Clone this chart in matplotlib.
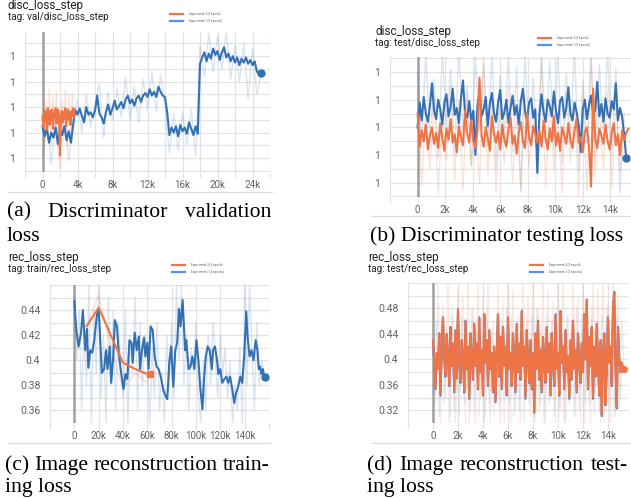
import numpy as np
import matplotlib
matplotlib.use("Agg")
import matplotlib.pyplot as plt

# ---------------- data ----------------
# (a) validation discriminator loss (display units, tick labels all read "1")
a_orange_step = 100
a_orange = [4.3, 3.4, 4.8, 3.9, 4.6, 3.2, 4.9, 4.1, 3.6, 4.7, 4.0, 4.8, 3.3, 4.5, 4.2, 4.9, 3.7, 4.4, 4.8, 3.9,
            1.2, 4.3, 4.7, 3.8, 4.6, 4.1, 4.9, 3.5, 4.4, 4.8, 4.0, 4.6, 3.6, 4.7, 4.3, 4.9, 4.2, 4.8]
a_orange_raw_step = 200
a_orange_raw = [6.0, 1.8, 5.5, 2.4, 6.4, 2.0, 5.8, 2.6, 6.2, 1.5, 0.2, 5.6, 2.2, 6.3, 1.9, 5.9, 2.8, 6.0, 3.5]
a_blue_step = 250
a_blue = [3.5, 2.7, 3.3, 2.2, 3.0, 2.6, 3.4, 2.1, 3.2, 2.8, 3.5, 2.4, 3.1, 2.2, 3.6,
          4.8, 4.4, 4.9, 4.3, 3.8, 5.0, 4.4, 4.6, 4.2, 4.7, 5.9, 4.5, 4.2, 3.7, 4.6, 5.2, 4.4, 4.9, 5.5, 4.8,
          5.1, 5.4, 4.9, 5.6, 5.9, 5.3, 5.6, 5.1, 5.7, 5.9, 5.4, 5.9, 6.1, 5.8, 6.4, 5.9, 6.2, 5.8, 6.6, 6.2,
          5.9, 5.8, 4.6, 2.8, 3.4, 3.0, 3.5, 2.7, 3.6, 3.1, 3.4, 2.9, 3.8, 3.3, 2.8, 3.5, 2.9,
          8.4, 8.9, 9.3, 8.6, 9.2, 8.8, 9.6, 9.1, 9.4, 8.7, 9.3, 9.7, 8.9, 9.2, 8.6, 9.0, 8.5, 8.9, 8.3, 8.8,
          8.5, 8.9, 8.4, 8.7, 8.3, 8.6, 7.8, 7.6, 7.7]
a_blue_raw_step = 500
a_blue_raw = [1.0, 4.5, 0.5, 3.8, 1.5, 5.0, 0.8, 4.2,
              5.6, 3.0, 6.0, 3.4, 5.2, 6.8, 2.6, 6.2, 4.0, 6.5, 4.2, 7.4, 4.0, 6.6, 3.8, 7.2, 4.8, 7.8,
              4.6, 7.6, 5.0, 1.4, 4.5, 1.6, 4.6, 2.0, 4.8, 1.2, 9.8, 7.4, 10.8, 7.8, 10.6, 8.0, 10.9, 7.2,
              9.8, 7.0, 10.0, 5.6, 9.6, 6.0, 7.6]

# (b) test discriminator loss
b_step = 150
b_blue = [5.0, 6.8, 5.5, 7.2, 6.0, 5.4, 6.6, 8.2, 6.2, 5.6, 7.0, 6.3, 5.2, 6.8, 7.4, 5.8, 6.5, 7.8, 5.9, 6.4,
          5.3, 7.1, 8.4, 6.0, 5.7, 6.9, 5.5, 6.2, 3.0, 6.6, 7.6, 5.8, 6.3, 7.2, 5.1, 6.7, 7.5, 6.0, 5.4, 6.8,
          7.7, 5.6, 6.1, 7.0, 5.3, 6.4, 7.3, 5.9, 6.6, 5.2, 6.9, 7.8, 6.2, 5.5, 6.8, 7.1, 5.7, 6.3, 1.7, 5.9,
          7.4, 6.1, 5.4, 7.0, 6.5, 5.8, 7.6, 6.2, 5.3, 6.9, 7.2, 5.7, 6.4, 7.9, 6.0, 5.5, 6.8, 6.1, 5.2, 3.2,
          6.3, 7.0, 5.6, 6.6, 7.3, 5.9, 6.2, 8.3, 5.8, 6.7, 5.4, 7.1, 6.0, 5.7, 6.9, 6.3, 8.2, 5.5, 6.4, 5.8,
          4.5, 2.8]
b_orange = [6.0, 3.6, 4.8, 4.0, 5.2, 3.4, 4.4, 5.0, 3.8, 4.6, 3.5, 5.3, 4.2, 3.3, 4.9, 4.1, 5.6, 3.9, 4.5, 3.2,
            5.1, 4.3, 3.7, 6.2, 4.6, 3.9, 5.5, 4.0, 3.5, 4.8, 8.6, 4.4, 3.6, 5.0, 4.2, 3.3, 5.8, 4.5, 3.9, 4.7,
            3.4, 5.2, 4.1, 3.6, 4.9, 5.7, 3.8, 4.4, 3.1, 4.6, 5.4, 4.0, 3.5, 6.0, 4.3, 3.7, 5.1, 4.5, 3.9, 4.8,
            3.6, 5.5, 4.2, 3.4, 4.9, 4.0, 5.8, 3.7, 4.6, 3.3, 5.0, 4.4, 3.8, 5.3, 4.1, 3.5, 4.8, 5.6, 3.9, 4.3,
            3.2, 4.7, 5.0, 3.6, 0.7, 7.8, 4.2, 3.5, 4.9, 4.4, 3.8, 5.2, 4.0, 3.4, 4.6, 5.3, 3.7, 4.5, 3.0, 4.8,
            4.1, 4.6, 4.9]
b_raw_step = 300
b_blue_raw = [9.0, 3.5, 10.6, 4.2, 8.5, 2.8, 10.4, 5.0, 9.2, 3.0, 10.8, 4.5, 8.0, 2.2, 10.2, 4.8, 9.6, 3.6,
              10.7, 2.0, 8.8, 4.4, 10.3, 3.2, 9.4, 0.3, 10.6, 4.0, 8.6, 2.6, 10.1, 4.6, 9.8, 3.4, 10.5, 2.4,
              9.0, 4.2, 10.9, 1.8, 8.4, 3.8, 10.0, 2.9, 9.6, 4.4, 10.7, 3.0, 9.2, 0.2, 6.0]
b_orange_raw = [7.8, 0.8, 6.5, 2.0, 7.2, 0.2, 5.8, 2.6, 8.0, 1.2, 6.9, 0.5, 7.5, 2.2, 6.2, 0.9, 10.5, 1.6,
                7.0, 0.3, 6.6, 2.4, 7.9, 1.0, 5.9, 0.4, 7.3, 2.1, 6.4, 1.3, 10.2, 0.6, 7.1, 1.9, 6.0, 0.2,
                7.6, 2.5, 6.8, 0.0, 7.4, 0.4, 10.6, 1.5, 6.3, 2.0, 7.7, 0.7, 6.5, 1.8, 5.5]

# (c) train reconstruction loss
c_orange_steps = [10000, 20000, 30000, 40000, 50000, 60000, 62000]
c_orange = [0.427, 0.442, 0.420, 0.398, 0.393, 0.389, 0.389]
c_orange_raw = [0.427, 0.452, 0.411, 0.377, 0.390, 0.382, 0.389]
c_blue_steps_k = [0, 1.6, 3.5, 5.5, 7, 8, 9, 10.4, 11.5, 13, 14.7, 16.4, 18.5, 20, 21, 22.6, 24.5, 26, 27.3, 29,
                  30.3, 32, 33.3, 35, 36.5, 38, 40.4, 42, 43.6, 45.3, 47, 48, 49.6, 51.3, 53, 54, 55.6, 57.3, 58.4, 60,
                  61, 62.7, 64.4, 66, 67.6, 69.3, 71, 73, 74.7, 76.4, 78, 79.6, 81.3, 83, 84.5, 86, 87.3, 89, 90, 91,
                  92, 94, 95.5, 97, 98.7, 100.4, 102, 103.6, 105.3, 106.4, 108, 109.6, 111.3, 113, 114, 115.6, 117.3,
                  118.4, 120, 121.6, 123.3, 125, 126.5, 128, 129.8, 131.4, 133, 134.7, 136.4, 138, 139.6, 141.3,
                  142.4, 144, 145.6, 147.3, 149, 150.5, 151.6, 152.7, 153.8, 155, 156, 157]
c_blue = [0.447, 0.424, 0.411, 0.422, 0.440, 0.424, 0.408, 0.425, 0.394, 0.408, 0.406, 0.416, 0.436, 0.441, 0.422,
          0.390, 0.393, 0.408, 0.393, 0.411, 0.382, 0.403, 0.432, 0.427, 0.406, 0.393, 0.377, 0.389, 0.385, 0.416,
          0.414, 0.398, 0.422, 0.408, 0.419, 0.393, 0.408, 0.418, 0.403, 0.414, 0.393, 0.427, 0.424, 0.403, 0.395,
          0.393, 0.387, 0.377, 0.372, 0.369, 0.398, 0.411, 0.379, 0.408, 0.414, 0.441, 0.427, 0.448, 0.429, 0.408,
          0.416, 0.393, 0.395, 0.403, 0.393, 0.416, 0.400, 0.377, 0.361, 0.382, 0.403, 0.411, 0.408, 0.393, 0.408,
          0.411, 0.400, 0.389, 0.393, 0.382, 0.385, 0.387, 0.382, 0.387, 0.377, 0.366, 0.374, 0.379, 0.387, 0.382,
          0.403, 0.439, 0.419, 0.403, 0.408, 0.400, 0.416, 0.408, 0.393, 0.395, 0.389, 0.393, 0.386, 0.387]
c_blue_raw_step = 2000
c_blue_raw = [0.45, 0.40, 0.44, 0.36, 0.43, 0.38, 0.46, 0.35, 0.44, 0.39, 0.46, 0.37, 0.42, 0.35, 0.45, 0.38,
              0.44, 0.36, 0.43, 0.40, 0.37, 0.44, 0.35, 0.42, 0.39, 0.45, 0.36, 0.43, 0.38, 0.42, 0.40, 0.35,
              0.41, 0.37, 0.43, 0.36, 0.39, 0.35, 0.42, 0.38, 0.43, 0.37, 0.46, 0.40, 0.46, 0.38, 0.42, 0.36,
              0.41, 0.39, 0.43, 0.37, 0.35, 0.40, 0.36, 0.42, 0.38, 0.43, 0.40, 0.37, 0.42, 0.39, 0.41, 0.37,
              0.40, 0.35, 0.38, 0.36, 0.41, 0.35, 0.46, 0.38, 0.46, 0.41, 0.36, 0.43, 0.38, 0.40, 0.39]

# (d) test reconstruction loss (both runs overlap almost exactly)
d_step = 100
d_orange = [0.430, 0.395, 0.355, 0.410, 0.385, 0.440, 0.345, 0.420, 0.465, 0.400,
            0.375, 0.440, 0.405, 0.360, 0.450, 0.390, 0.425, 0.350, 0.445, 0.370,
            0.478, 0.395, 0.365, 0.430, 0.405, 0.350, 0.460, 0.385, 0.420, 0.340,
            0.440, 0.400, 0.370, 0.455, 0.390, 0.425, 0.355, 0.465, 0.380, 0.415,
            0.345, 0.470, 0.395, 0.430, 0.360, 0.445, 0.385, 0.410, 0.350, 0.420,
            0.335, 0.400, 0.470, 0.375, 0.435, 0.355, 0.450, 0.390, 0.420, 0.345,
            0.465, 0.385, 0.410, 0.360, 0.440, 0.395, 0.350, 0.455, 0.380, 0.425,
            0.370, 0.475, 0.390, 0.420, 0.340, 0.445, 0.400, 0.365, 0.430, 0.355,
            0.410, 0.318, 0.440, 0.385, 0.460, 0.370, 0.415, 0.350, 0.435, 0.395,
            0.365, 0.450, 0.380, 0.425, 0.345, 0.440, 0.390, 0.360, 0.470, 0.385,
            0.410, 0.345, 0.475, 0.395, 0.420, 0.355, 0.445, 0.380, 0.405, 0.340,
            0.430, 0.370, 0.460, 0.385, 0.415, 0.350, 0.440, 0.395, 0.365, 0.425,
            0.380, 0.470, 0.400, 0.493, 0.355, 0.435, 0.390, 0.450, 0.340, 0.420,
            0.375, 0.455, 0.395, 0.345, 0.430, 0.313, 0.410, 0.440, 0.330, 0.385,
            0.465, 0.395, 0.420, 0.360, 0.480, 0.505, 0.390, 0.325, 0.450, 0.400,
            0.380, 0.395, 0.385, 0.385]
d_blue = [0.430, 0.395, 0.353, 0.410, 0.385, 0.441, 0.343, 0.420, 0.466, 0.400,
          0.373, 0.440, 0.405, 0.358, 0.451, 0.390, 0.425, 0.348, 0.446, 0.370,
          0.479, 0.395, 0.363, 0.430, 0.405, 0.348, 0.461, 0.385, 0.420, 0.338,
          0.441, 0.400, 0.368, 0.456, 0.390, 0.425, 0.353, 0.466, 0.380, 0.415,
          0.343, 0.471, 0.395, 0.430, 0.358, 0.446, 0.385, 0.410, 0.348, 0.420,
          0.333, 0.400, 0.471, 0.373, 0.435, 0.353, 0.451, 0.390, 0.420, 0.343,
          0.466, 0.385, 0.410, 0.358, 0.441, 0.395, 0.348, 0.456, 0.380, 0.425,
          0.368, 0.476, 0.390, 0.420, 0.338, 0.446, 0.400, 0.363, 0.430, 0.353,
          0.410, 0.316, 0.441, 0.385, 0.461, 0.368, 0.415, 0.348, 0.435, 0.395,
          0.363, 0.451, 0.380, 0.425, 0.343, 0.441, 0.390, 0.358, 0.471, 0.385,
          0.410, 0.343, 0.476, 0.395, 0.420, 0.353, 0.446, 0.380, 0.405, 0.338,
          0.430, 0.368, 0.461, 0.385, 0.415, 0.348, 0.441, 0.395, 0.363, 0.425,
          0.380, 0.471, 0.400, 0.494, 0.353, 0.435, 0.390, 0.451, 0.338, 0.420,
          0.373, 0.456, 0.395, 0.343, 0.430, 0.311, 0.410, 0.441, 0.328, 0.385,
          0.466, 0.395, 0.420, 0.358, 0.481, 0.506, 0.390, 0.323, 0.451, 0.400,
          0.380, 0.395, 0.385, 0.385]
d_raw_step = 200
d_orange_raw = [0.44, 0.33, 0.52, 0.30, 0.49, 0.34, 0.53, 0.31, 0.47, 0.29, 0.51, 0.35, 0.50, 0.30, 0.53, 0.32,
                0.48, 0.29, 0.52, 0.34, 0.50, 0.31, 0.53, 0.30, 0.46, 0.33, 0.52, 0.29, 0.49, 0.35, 0.53, 0.30,
                0.51, 0.32, 0.47, 0.29, 0.53, 0.34, 0.50, 0.31, 0.52, 0.30, 0.48, 0.33, 0.53, 0.29, 0.51, 0.35,
                0.49, 0.30, 0.52, 0.32, 0.53, 0.29, 0.47, 0.34, 0.52, 0.31, 0.50, 0.30, 0.53, 0.33, 0.48, 0.29,
                0.52, 0.35, 0.51, 0.30, 0.53, 0.32, 0.49, 0.29, 0.53, 0.31, 0.50, 0.34, 0.39]
d_blue_raw = [0.41, 0.46, 0.31, 0.47, 0.33, 0.45, 0.30, 0.48, 0.32, 0.46, 0.31, 0.47, 0.33, 0.45, 0.30, 0.48,
              0.32, 0.46, 0.31, 0.47, 0.30, 0.48, 0.33, 0.45, 0.31, 0.47, 0.32, 0.46, 0.30, 0.48, 0.33, 0.47,
              0.31, 0.45, 0.32, 0.48, 0.30, 0.46, 0.33, 0.47, 0.31, 0.48, 0.32, 0.45, 0.30, 0.47, 0.33, 0.46,
              0.31, 0.48, 0.32, 0.45, 0.30, 0.47, 0.33, 0.46, 0.31, 0.48, 0.32, 0.47, 0.30, 0.45, 0.33, 0.48,
              0.31, 0.46, 0.32, 0.47, 0.30, 0.48, 0.33, 0.45, 0.31, 0.47, 0.32, 0.46, 0.38]

legend_labels = ["Experiment 3 (3 epoch)", "Experiment 1 (3 epochs)"]

# ---------------- styling ----------------
W, H = 631, 498
BLUE = "#3471b4"
ORANGE = "#ee7446"
GRID = "#e3e3e3"
TICKC = "#616161"
TXT = "#212121"
SANS = ["Roboto", "DejaVu Sans"]
SERIF = ["Liberation Serif", "DejaVu Serif"]
CAP = 15.6

fig = plt.figure(figsize=(W / 100, H / 100), dpi=100)


def add_ax(l, t, r, b):
    return fig.add_axes([l / W, 1 - b / H, (r - l) / W, (b - t) / H])


def ftext(x, y, s, **kw):
    return fig.text(x / W, 1 - y / H, s, **kw)


def fline(x0, x1, y, **kw):
    fig.add_artist(plt.Line2D([x0 / W, x1 / W], [1 - y / H, 1 - y / H], transform=fig.transFigure, **kw))


def panel(box, xlim, ylim, xmaj, xlab, xgrid, ymaj, ylab, ygrid):
    ax = add_ax(*box)
    ax.set_xlim(*xlim)
    ax.set_ylim(*ylim)
    for sp in ax.spines.values():
        sp.set_visible(False)
    ax.set_xticks(xgrid, minor=True)
    ax.set_xticks(xmaj)
    ax.set_xticklabels(xlab)
    ax.set_yticks(ygrid, minor=True)
    ax.set_yticks(ymaj)
    ax.set_yticklabels(ylab)
    ax.grid(True, which="both", color=GRID, lw=0.9)
    ax.tick_params(axis="x", which="both", length=4, width=0.9, color=GRID, labelsize=7,
                   labelcolor=TICKC, pad=2)
    ax.tick_params(axis="y", which="both", length=0, labelsize=7.5, labelcolor=TICKC, pad=7)
    for lab in ax.get_xticklabels() + ax.get_yticklabels():
        lab.set_family(SANS)
    ax.axvline(0, color="#a0a0a0", lw=1.8, zorder=1.5)
    ax.set_axisbelow(True)
    return ax


def header(x, y, title, tag, lx, ly):
    ftext(x, y, title, fontsize=8.5, color=TXT, family=SANS, va="center")
    ftext(x, y + 11.5, tag, fontsize=7.1, color=TXT, family=SANS, va="center")
    fline(lx, lx + 13, ly, color=ORANGE, lw=1.6)
    fline(lx, lx + 13, ly + 7, color="#5b8df0", lw=1.6)
    ftext(lx + 19, ly, legend_labels[0], fontsize=2.2, color="#555555", family=SANS, va="center")
    ftext(lx + 19, ly + 7, legend_labels[1], fontsize=2.2, color="#555555", family=SANS, va="center")


def steps(vals, step):
    return np.arange(len(vals)) * step


# ---------------- (a) ----------------
axa = panel((25, 32, 270, 172), (-2000, 26000), (-0.1, 10.9),
            np.arange(0, 24001, 4000), ["0", "4k", "8k", "12k", "16k", "20k", "24k"],
            np.arange(-2000, 26001, 2000), [1, 3, 5, 7, 9], ["1"] * 5, np.arange(0, 11))
axa.plot(steps(a_blue_raw, a_blue_raw_step), a_blue_raw, color=BLUE, alpha=0.18, lw=1)
axa.plot(steps(a_orange_raw, a_orange_raw_step), a_orange_raw, color=ORANGE, alpha=0.22, lw=1)
axa.plot(steps(a_blue, a_blue_step), a_blue, color=BLUE, lw=1.5)
axa.plot(steps(a_orange, a_orange_step), a_orange, color=ORANGE, lw=1.5)
axa.plot(steps(a_blue, a_blue_step)[-1], a_blue[-1], "o", color=BLUE, ms=5)
header(8, 6, "disc_loss_step", "tag: val/disc_loss_step", 170, 14)
fline(8, 272, 192, color="#dddddd", lw=0.9)

# ---------------- (b) ----------------
axb = panel((390, 57, 631, 197), (-2000, 15500), (-0.05, 10.1),
            np.arange(0, 14001, 2000), ["0", "2k", "4k", "6k", "8k", "10k", "12k", "14k"],
            np.arange(-2000, 15001, 2000), [1, 3, 5, 7, 9], ["1"] * 5, np.arange(0, 11))
axb.plot(steps(b_blue_raw, b_raw_step), b_blue_raw, color=BLUE, alpha=0.18, lw=1)
axb.plot(steps(b_orange_raw, b_raw_step), b_orange_raw, color=ORANGE, alpha=0.2, lw=1)
axb.plot(steps(b_blue, b_step), b_blue, color=BLUE, lw=1.5)
axb.plot(steps(b_orange, b_step), b_orange, color=ORANGE, lw=1.5)
axb.plot(steps(b_blue, b_step)[-1], b_blue[-1], "o", color=BLUE, ms=5)
header(375, 32, "disc_loss_step", "tag: test/disc_loss_step", 538, 38)
fline(372, 631, 216, color="#dddddd", lw=0.9)

# ---------------- (c) ----------------
axc = panel((50, 285, 269, 423), (-20000, 160000), (0.35, 0.46),
            np.arange(0, 140001, 20000), ["0", "20k", "40k", "60k", "80k", "100k", "120k", "140k"],
            np.arange(-20000, 160001, 20000), [0.36, 0.38, 0.40, 0.42, 0.44],
            ["0.36", "0.38", "0.4", "0.42", "0.44"], np.arange(0.35, 0.4601, 0.01))
c_blue_steps = np.array(c_blue_steps_k) * 1000
axc.plot(steps(c_blue_raw, c_blue_raw_step), c_blue_raw, color=BLUE, alpha=0.18, lw=1)
axc.plot(c_orange_steps, c_orange_raw, color=ORANGE, alpha=0.22, lw=1)
axc.plot(c_blue_steps, c_blue, color=BLUE, lw=1.5)
axc.plot(c_orange_steps, c_orange, color=ORANGE, lw=1.5)
axc.plot(c_orange_steps[-1], c_orange[-1], "s", color=ORANGE, ms=4)
axc.plot(c_blue_steps[-1], c_blue[-1], "o", color=BLUE, ms=5)
header(8, 258, "rec_loss_step", "tag: train/rec_loss_step", 172, 265)
fline(8, 270, 443, color="#dddddd", lw=0.9)

# ---------------- (d) ----------------
axd = panel((408, 283, 628, 423), (-2000, 15600), (0.30, 0.52),
            np.arange(0, 14001, 2000), ["0", "2k", "4k", "6k", "8k", "10k", "12k", "14k"],
            np.arange(-2000, 15001, 2000), [0.32, 0.36, 0.40, 0.44, 0.48],
            ["0.32", "0.36", "0.4", "0.44", "0.48"], np.arange(0.30, 0.5201, 0.02))
axd.plot(steps(d_blue_raw, d_raw_step) + 100, d_blue_raw, color=BLUE, alpha=0.12, lw=1)
axd.plot(steps(d_orange_raw, d_raw_step), d_orange_raw, color=ORANGE, alpha=0.16, lw=1)
axd.plot(steps(d_blue, d_step), d_blue, color="#5577c8", lw=1.5)
axd.plot(steps(d_orange, d_step), d_orange, color=ORANGE, lw=1.5)
axd.plot(steps(d_orange, d_step)[-1], d_orange[-1], "o", color=ORANGE, ms=4)
header(368, 258, "rec_loss_step", "tag: test/rec_loss_step", 530, 265)
fline(372, 631, 443, color="#dddddd", lw=0.9)

# ---------------- captions ----------------
fig.canvas.draw()
renderer = fig.canvas.get_renderer()


def justify(words, x0, x1, y):
    ts = [ftext(0, y, w, fontsize=CAP, family=SERIF, va="baseline", color="black") for w in words]
    widths = [t.get_window_extent(renderer).width for t in ts]
    gap = (x1 - x0 - sum(widths)) / (len(words) - 1)
    x = x0
    for t, w in zip(ts, widths):
        t.set_x(x / W)
        x += w + gap


justify(["(a)", "Discriminator", "validation"], 7, 271, 216.5)
ftext(7, 241, "loss", fontsize=CAP, family=SERIF, va="baseline")
ftext(370, 241, "(b) Discriminator testing loss", fontsize=CAP, family=SERIF, va="baseline")
justify(["(c)", "Image", "reconstruction", "train-"], 5, 270, 470)
ftext(5, 492, "ing loss", fontsize=CAP, family=SERIF, va="baseline")
justify(["(d)", "Image", "reconstruction", "test-"], 367, 628, 470)
ftext(367, 492, "ing loss", fontsize=CAP, family=SERIF, va="baseline")

fig.savefig("out.png", dpi=100)
